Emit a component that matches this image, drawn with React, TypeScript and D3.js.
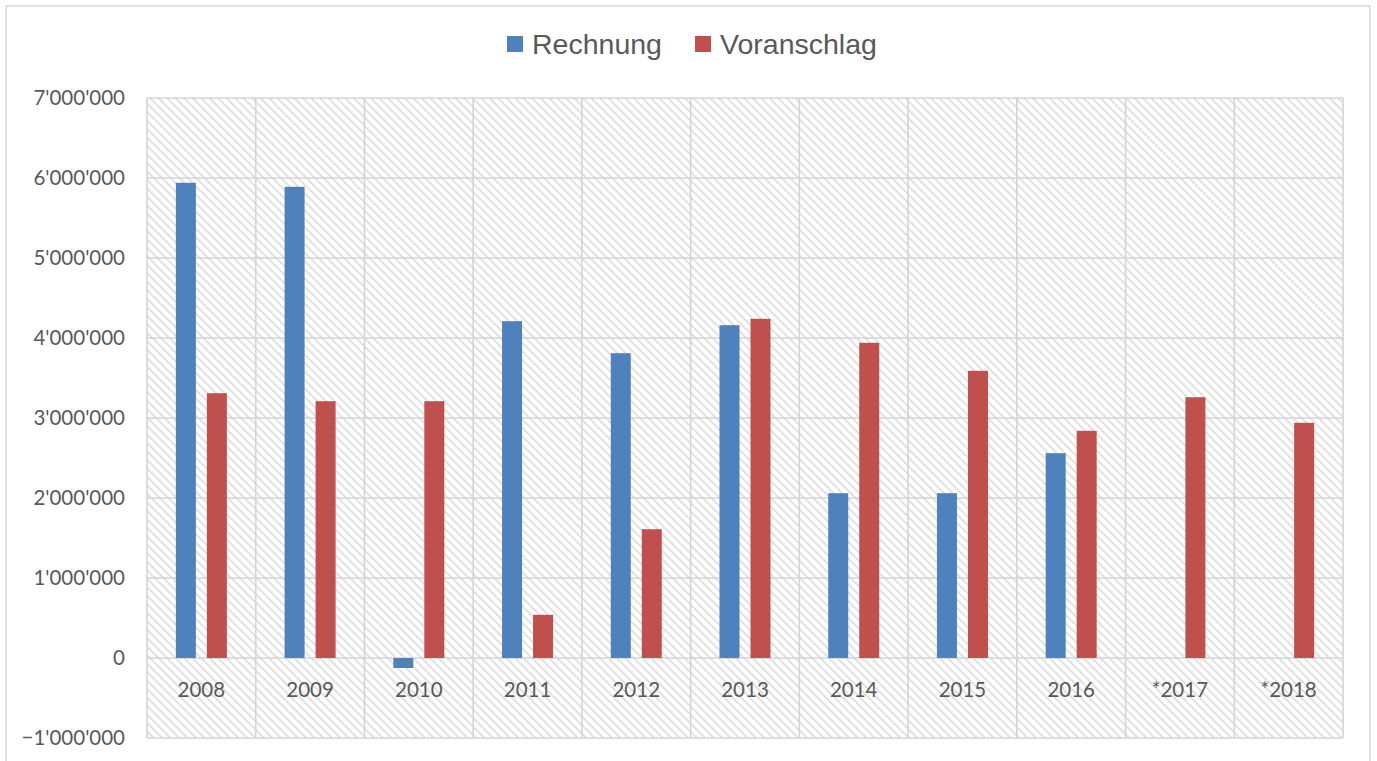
import React, { useEffect, useRef } from 'react';
import * as d3 from 'd3';

const years = ['2008', '2009', '2010', '2011', '2012', '2013', '2014', '2015', '2016', '*2017', '*2018'];
const rechnung = [5940000, 5890000, -125000, 4210000, 3810000, 4160000, 2060000, 2060000, 2560000, null, null];
const voranschlag = [3310000, 3210000, 3210000, 540000, 1610000, 4240000, 3940000, 3590000, 2840000, 3260000, 2940000];
const yTicks = [-1000000, 0, 1000000, 2000000, 3000000, 4000000, 5000000, 6000000, 7000000];
const seriesNames = ['Rechnung', 'Voranschlag'];
const colors = ['#4f81bd', '#c0504d'];

const W = 1377;
const H = 761;

const fmt = (v: number) => {
  const s = d3.format(',')(v);
  return s.replace(/,/g, "'");
};

export default function App() {
  const ref = useRef<SVGSVGElement>(null);

  useEffect(() => {
    const svg = d3.select(ref.current);
    svg.selectAll('*').remove();

    const left = 147, right = 1343, top = 98, bottom = 738;

    const defs = svg.append('defs');
    const pat = defs.append('pattern')
      .attr('id', 'hatch')
      .attr('patternUnits', 'userSpaceOnUse')
      .attr('width', 6)
      .attr('height', 6)
      .attr('patternTransform', 'rotate(-45)');
    pat.append('rect').attr('width', 6).attr('height', 6).attr('fill', '#fff');
    pat.append('line')
      .attr('x1', 0).attr('y1', 0).attr('x2', 0).attr('y2', 6)
      .attr('stroke', '#d8d8d8').attr('stroke-width', 3);

    // outer frame
    svg.append('rect')
      .attr('x', 6).attr('y', 6).attr('width', 1364).attr('height', 770)
      .attr('fill', '#fff').attr('stroke', '#d9d9d9').attr('stroke-width', 1.5);

    const x = d3.scaleBand().domain(years).range([left, right]);
    const y = d3.scaleLinear().domain([-1000000, 7000000]).range([bottom, top]);

    svg.append('rect')
      .attr('x', left).attr('y', top)
      .attr('width', right - left).attr('height', bottom - top)
      .attr('fill', 'url(#hatch)');

    const grid = svg.append('g').attr('stroke', '#d4d4d4').attr('stroke-width', 1.6);
    grid.selectAll('line.h')
      .data(yTicks)
      .enter()
      .append('line')
      .attr('x1', left).attr('x2', right)
      .attr('y1', d => y(d)).attr('y2', d => y(d));
    grid.selectAll('line.v')
      .data([...years.map(d => x(d) as number), right])
      .enter()
      .append('line')
      .attr('x1', d => d).attr('x2', d => d)
      .attr('y1', top).attr('y2', bottom);

    const barW = 20;
    const gap = 11;
    const offsets = [-(gap / 2 + barW), gap / 2];
    [rechnung, voranschlag].forEach((vals, si) => {
      svg.append('g').selectAll('rect')
        .data(vals.map((v, i) => ({ v, c: years[i] })).filter(d => d.v !== null))
        .enter()
        .append('rect')
        .attr('x', d => (x(d.c) as number) + x.bandwidth() / 2 + offsets[si])
        .attr('width', barW)
        .attr('y', d => y(Math.max(0, d.v as number)))
        .attr('height', d => Math.abs(y(d.v as number) - y(0)))
        .attr('fill', colors[si]);
    });

    svg.append('g').selectAll('text')
      .data(yTicks)
      .enter()
      .append('text')
      .attr('x', 125)
      .attr('y', d => y(d))
      .attr('dy', '0.35em')
      .attr('text-anchor', 'end')
      .attr('font-family', 'Lato, "Open Sans", sans-serif')
      .attr('font-size', 20.5)
      .attr('fill', '#595959')
      .text(d => fmt(d));

    svg.append('g').selectAll('text')
      .data(years)
      .enter()
      .append('text')
      .attr('x', d => (x(d) as number) + x.bandwidth() / 2)
      .attr('y', 690)
      .attr('dy', '0.35em')
      .attr('text-anchor', 'middle')
      .attr('font-family', 'Lato, "Open Sans", sans-serif')
      .attr('font-size', 20.5)
      .attr('fill', '#595959')
      .text(d => d);

    const legendX = [507, 695];
    const lg = svg.append('g');
    seriesNames.forEach((n, i) => {
      lg.append('rect')
        .attr('x', legendX[i]).attr('y', 36)
        .attr('width', 16).attr('height', 16)
        .attr('fill', colors[i]);
      lg.append('text')
        .attr('x', legendX[i] + 25).attr('y', 54)
        .attr('font-family', '"Liberation Sans", Arial, sans-serif')
        .attr('font-size', 28.5)
        .attr('fill', '#595959')
        .text(n);
    });
  }, []);

  return (
    <svg ref={ref} width={W} height={H} style={{ position: 'absolute', left: 0, top: 0, display: 'block' }} />
  );
}
